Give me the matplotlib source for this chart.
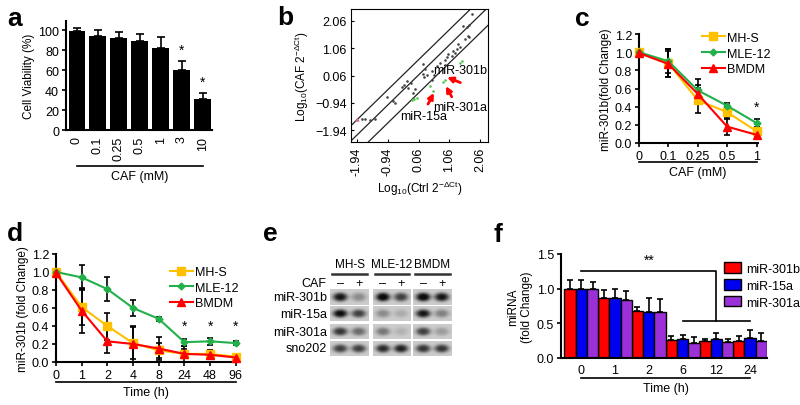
import numpy as np
import matplotlib
matplotlib.use('Agg')
import matplotlib.pyplot as plt
from matplotlib.transforms import blended_transform_factory

plt.rcParams['font.family'] = ['Liberation Sans', 'DejaVu Sans']
plt.rcParams['mathtext.fontset'] = 'custom'
plt.rcParams['mathtext.rm'] = 'Liberation Sans'
plt.rcParams['mathtext.it'] = 'Liberation Sans'
plt.rcParams['font.size'] = 9

W, H = 800, 406
FS = 9
LFS = 8.5

# a: cell viability
a_doses = ['0', '0.1', '0.25', '0.5', '1', '3', '10']
a_via = [99, 94, 92, 89, 82, 60, 31]
a_err = [3, 6, 6, 7, 11, 9, 6]

# b: scatter of log10 expression
b_gray_x = [1.79, 1.52, 1.65, 1.70, 1.66, 1.70, 1.57, 1.36, 1.41, 1.30, 1.19, 1.03, 1.14, 1.25,
            0.98, 0.92, 0.76, 0.92, 0.65, 0.22, 0.27, 0.22, 0.33, 0.25, 0.51, 0.58, -0.32, -0.40,
            -0.47, -0.27, -0.18, -0.11, -0.97, -0.76, -0.70, -1.79, -1.68, -1.52, -1.35, 0.49, -0.05]
b_gray_y = [2.32, 1.89, 1.85, 1.93, 1.52, 1.46, 1.40, 1.22, 1.09, 1.03, 0.97, 0.85, 0.79, 0.87,
            0.73, 0.63, 0.51, 0.46, 0.42, 0.48, 0.30, 0.12, 0.09, 0.02, 0.21, 0.09, -0.15, -0.28,
            -0.35, -0.40, -0.23, -0.59, -0.74, -0.86, -0.96, -1.54, -1.54, -1.56, -1.54, -0.10, -0.44]
b_green_x = [0.00, -0.08, -0.16, 0.54, 0.87, 0.92, 1.41, 1.46, 0.43]
b_green_y = [-0.77, -0.80, -0.84, -0.52, -0.19, -0.11, 0.51, 0.58, -0.31]
b_pink_x = [-1.95]
b_pink_y = [-1.54]
b_ticks = [-1.94, -0.94, 0.06, 1.06, 2.06]
b_offsets = [0.57, 0.01, -0.65]

# c: dose response
c_doses = ['0', '0.1', '0.25', '0.5', '1']
c_mhs = [1.0, 0.88, 0.47, 0.34, 0.13]
c_mhs_err = [0.0, 0.15, 0.14, 0.08, 0.05]
c_mle = [1.0, 0.90, 0.58, 0.41, 0.22]
c_mle_err = [0.0, 0.13, 0.12, 0.03, 0.04]
c_bmdm = [0.99, 0.87, 0.54, 0.18, 0.09]
c_bmdm_err = [0.0, 0.14, 0.10, 0.09, 0.03]

# d: time course
d_times = ['0', '1', '2', '4', '8', '24', '48', '96']
d_mhs = [1.0, 0.61, 0.40, 0.21, 0.13, 0.09, 0.09, 0.06]
d_mhs_err = [0.0, 0.20, 0.15, 0.18, 0.08, 0.05, 0.04, 0.02]
d_mle = [1.0, 0.94, 0.81, 0.60, 0.48, 0.22, 0.23, 0.21]
d_mle_err = [0.0, 0.14, 0.13, 0.09, 0.02, 0.04, 0.04, 0.02]
d_bmdm = [0.99, 0.57, 0.23, 0.20, 0.15, 0.09, 0.08, 0.05]
d_bmdm_err = [0.0, 0.25, 0.13, 0.20, 0.13, 0.09, 0.05, 0.02]

# e: northern blot band intensities (-/+ CAF)
e_cells = ['MH-S', 'MLE-12', 'BMDM']
e_rows = ['miR-301b', 'miR-15a', 'miR-301a', 'sno202']
e_bands = {
    'miR-301b': [[0.85, 0.30], [0.95, 0.65], [0.95, 0.85]],
    'miR-15a': [[0.90, 0.65], [0.30, 0.15], [0.85, 0.35]],
    'miR-301a': [[0.70, 0.45], [0.40, 0.12], [0.65, 0.22]],
    'sno202': [[0.65, 0.65], [0.75, 0.80], [0.70, 0.70]],
}

# f: miRNA time course bars
f_times = ['0', '1', '2', '6', '12', '24']
f_301b = [1.0, 0.86, 0.68, 0.26, 0.24, 0.25]
f_301b_err = [0.12, 0.12, 0.05, 0.06, 0.03, 0.07]
f_15a = [1.0, 0.86, 0.66, 0.28, 0.28, 0.29]
f_15a_err = [0.13, 0.13, 0.21, 0.05, 0.08, 0.12]
f_301a = [1.0, 0.83, 0.66, 0.22, 0.23, 0.25]
f_301a_err = [0.09, 0.14, 0.19, 0.08, 0.05, 0.11]

ORANGE = '#FFC000'
GREEN = '#22B04A'
RED = '#FF0000'
BLUE = '#0000F0'
PURPLE = '#9B30D9'

fig = plt.figure(figsize=(8, 4.06), dpi=100)


def px_ax(x0, y0, x1, y1):
    return fig.add_axes([x0 / W, 1 - y1 / H, (x1 - x0) / W, (y1 - y0) / H])


def style(ax):
    ax.spines['top'].set_visible(False)
    ax.spines['right'].set_visible(False)
    for s in ['left', 'bottom']:
        ax.spines[s].set_linewidth(1.5)
    ax.tick_params(width=1.2, length=3, labelsize=FS, pad=2)


def underline(ax, x0, x1, y_line, y_text, text):
    tr = blended_transform_factory(ax.transData, fig.transFigure)
    ax.plot([x0, x1], [1 - y_line / H] * 2, color='black', lw=1.2, transform=tr, clip_on=False)
    ax.text((x0 + x1) / 2, 1 - y_text / H, text, transform=tr, ha='center', va='center', fontsize=FS)


# ---- a ----
ax = px_ax(66, 22, 212, 131)
xa = np.arange(len(a_via))
ax.bar(xa, a_via, width=0.8, color='black')
ax.errorbar(xa, a_via, yerr=[np.zeros(len(a_err)), a_err], fmt='none', ecolor='black',
            elinewidth=1.2, capsize=3, capthick=1.2)
ax.set_xlim(-0.52, 6.45)
ax.set_ylim(0, 109)
ax.set_yticks([0, 20, 40, 60, 80, 100])
ax.set_xticks(xa)
ax.set_xticklabels(a_doses, rotation=90)
style(ax)
ax.tick_params(axis='x', length=0, pad=4)
ax.set_ylabel('Cell Viability (%)', fontsize=LFS, labelpad=2)
for i in [5, 6]:
    ax.text(i, a_via[i] + a_err[i] + 4, '*', ha='center', va='bottom', fontsize=10)
underline(ax, 0, 6, 167, 177, 'CAF (mM)')

# ---- b ----
ax = px_ax(351, 10, 488, 143)
ax.set_xlim(-2.135, 2.32)
ax.set_ylim(-2.38, 2.50)
xl = np.array([-2.5, 2.6])
for c in b_offsets:
    ax.plot(xl, 1.1 * xl + c, color='#222222', lw=0.9)
ax.scatter(b_gray_x, b_gray_y, s=3.5, color='#444444', lw=0, zorder=3)
ax.scatter(b_green_x, b_green_y, s=3.5, color='#55C455', lw=0, zorder=3)
ax.scatter(b_pink_x, b_pink_y, s=10, color='#CC6688', marker='^', lw=0, zorder=3)
ax.set_xticks(b_ticks)
ax.set_yticks(b_ticks)
ax.set_xticklabels(['%.2f' % t for t in b_ticks], rotation=90)
for s in ax.spines.values():
    s.set_linewidth(0.8)
ax.tick_params(direction='in', length=2, labelsize=FS, pad=3)
ax.set_xlabel(r'Log$_{10}$(Ctrl 2$^{-\Delta Ct}$)', fontsize=LFS, labelpad=3)
ax.set_ylabel(r'Log$_{10}$(CAF 2$^{-\Delta Ct}$)', fontsize=LFS, labelpad=3)
arr = dict(arrowstyle='-|>', color='red', lw=2, mutation_scale=8, shrinkA=0, shrinkB=0)
ax.annotate('', xy=(0.99, 0.0), xytext=(1.42, -0.20), arrowprops=arr)
ax.annotate('', xy=(0.95, -0.33), xytext=(1.14, -0.72), arrowprops=arr)
ax.annotate('', xy=(0.56, -0.58), xytext=(0.37, -0.99), arrowprops=arr)
ax.text(1.42, 0.26, 'miR-301b', ha='center', va='center', fontsize=FS)
ax.text(1.40, -1.08, 'miR-301a', ha='center', va='center', fontsize=FS)
ax.text(0.24, -1.43, 'miR-15a', ha='center', va='center', fontsize=FS)


def line_panel(ax, n, series, ylabel, legend_anchor):
    x = np.arange(n)
    for y, e, col, mk, ms, lab in series:
        ax.errorbar(x, y, yerr=e, fmt='none', ecolor='black', elinewidth=1.2, capsize=2,
                    capthick=1.2, zorder=2, clip_on=False)
        ax.plot(x, y, color=col, marker=mk, markersize=ms, lw=1.5, label=lab, zorder=3,
                clip_on=False)
    ax.set_xlim(0, n - 1 + 0.05)
    ax.set_ylim(0, 1.2)
    ax.set_yticks(np.arange(0, 1.21, 0.2))
    ax.set_yticklabels(['%.1f' % v for v in np.arange(0, 1.21, 0.2)])
    ax.set_xticks(x)
    style(ax)
    ax.set_ylabel(ylabel, fontsize=LFS, labelpad=2)
    ax.legend(loc='upper left', bbox_to_anchor=legend_anchor, frameon=False, fontsize=FS,
              handlelength=1.8, handletextpad=0.2, labelspacing=0.3, borderpad=0,
              borderaxespad=0)


# ---- c ----
ax = px_ax(639, 35, 758, 144)
line_panel(ax, len(c_doses), [
    (c_mhs, c_mhs_err, ORANGE, 's', 6, 'MH-S'),
    (c_mle, c_mle_err, GREEN, 'D', 3.5, 'MLE-12'),
    (c_bmdm, c_bmdm_err, RED, '^', 6, 'BMDM'),
], 'miR-301b(fold Change)', (0.53, 1.02))
ax.set_xticklabels(c_doses)
ax.text(4, 0.32, '*', ha='center', va='bottom', fontsize=10)
underline(ax, 0, 4, 163, 173, 'CAF (mM)')

# ---- d ----
ax = px_ax(56, 255, 237, 363)
line_panel(ax, len(d_times), [
    (d_mhs, d_mhs_err, ORANGE, 's', 6, 'MH-S'),
    (d_mle, d_mle_err, GREEN, 'D', 3.5, 'MLE-12'),
    (d_bmdm, d_bmdm_err, RED, '^', 6, 'BMDM'),
], 'miR-301b (fold Change)', (0.63, 0.89))
ax.set_xticklabels(d_times)
for i in [5, 6, 7]:
    ax.text(i, 0.33, '*', ha='center', va='bottom', fontsize=10)
underline(ax, 0, 7, 383, 393, 'Time (h)')

# ---- e ----
ex0, ey0, ex1, ey1 = 290, 250, 460, 362
ax = px_ax(ex0, ey0, ex1, ey1)
ax.set_xlim(ex0, ex1)
ax.set_ylim(ey1, ey0)
ax.axis('off')
group_x = [(330, 369), (373, 411), (413, 452)]
row_y = [(290, 306), (307, 322), (325, 340), (342, 357)]
xs = np.linspace(0, 1, 80)
ys = np.linspace(0, 1, 30)
X, Y = np.meshgrid(xs, ys)
for r, name in enumerate(e_rows):
    y0, y1 = row_y[r]
    ax.text(327, (y0 + y1) / 2, name, ha='right', va='center', fontsize=FS)
    for g, (x0, x1) in enumerate(group_x):
        img = np.full(X.shape, 0.80)
        for k, v in enumerate(e_bands[name][g]):
            cx = 0.26 + 0.48 * k
            img = img - v * 0.85 * np.exp(-(((X - cx) / 0.19) ** 2 + ((Y - 0.5) / 0.28) ** 2) ** 1.5)
        ax.imshow(np.clip(img, 0.05, 1), cmap='gray', vmin=0, vmax=1, extent=(x0, x1, y1, y0),
                  aspect='auto', interpolation='bilinear')
for g, (x0, x1) in enumerate(group_x):
    ax.text((x0 + x1) / 2, 265, e_cells[g], ha='center', va='center', fontsize=8.5)
    ax.plot([x0 + 2, x1 - 2], [275, 275], color='#333333', lw=1.8)
    ax.text(x0 + 0.26 * (x1 - x0), 284, '\u2013', ha='center', va='center', fontsize=FS)
    ax.text(x0 + 0.74 * (x1 - x0), 284, '+', ha='center', va='center', fontsize=FS)
ax.text(326, 284, 'CAF', ha='right', va='center', fontsize=FS)

# ---- f ----
ax = px_ax(561, 255, 767, 359)
xf = np.arange(len(f_times))
bw = 0.335
for off, y, e, col, lab in [(-bw, f_301b, f_301b_err, RED, 'miR-301b'),
                            (0, f_15a, f_15a_err, BLUE, 'miR-15a'),
                            (bw, f_301a, f_301a_err, PURPLE, 'miR-301a')]:
    ax.bar(xf + off, y, width=bw, color=col, edgecolor='black', linewidth=1, label=lab)
    ax.errorbar(xf + off, y, yerr=[np.zeros(len(e)), e], fmt='none', ecolor='black',
                elinewidth=1.2, capsize=2.5, capthick=1.2)
ax.set_xlim(-0.6, 5.5)
ax.set_ylim(0, 1.5)
ax.set_yticks([0, 0.5, 1.0, 1.5])
ax.set_yticklabels(['0.0', '0.5', '1.0', '1.5'])
ax.set_xticks(xf)
ax.set_xticklabels(f_times)
style(ax)
ax.tick_params(axis='x', length=0, pad=4)
ax.set_ylabel('miRNA\n(fold Change)', fontsize=LFS, labelpad=3, linespacing=1.1)
ax.plot([0, 4, 4], [1.26, 1.26, 0.54], color='black', lw=1.2)
ax.plot([3, 5], [0.54, 0.54], color='black', lw=1.2)
ax.text(2, 1.31, '**', ha='center', va='bottom', fontsize=10)
ax.legend(loc='upper left', bbox_to_anchor=(0.79, 0.92), frameon=False, fontsize=FS,
          handlelength=1.4, handleheight=0.9, handletextpad=0.4, labelspacing=0.35,
          borderpad=0, borderaxespad=0)
underline(ax, 0, 5, 379, 389, 'Time (h)')

# panel letters
for lab, x, y in [('a', 15, 19), ('b', 285, 18), ('c', 582, 19),
                  ('d', 15, 234), ('e', 270, 234), ('f', 498, 235)]:
    fig.text(x / W, 1 - y / H, lab, fontsize=19, fontweight='bold', ha='center', va='center')

fig.savefig('out.png', dpi=100)
